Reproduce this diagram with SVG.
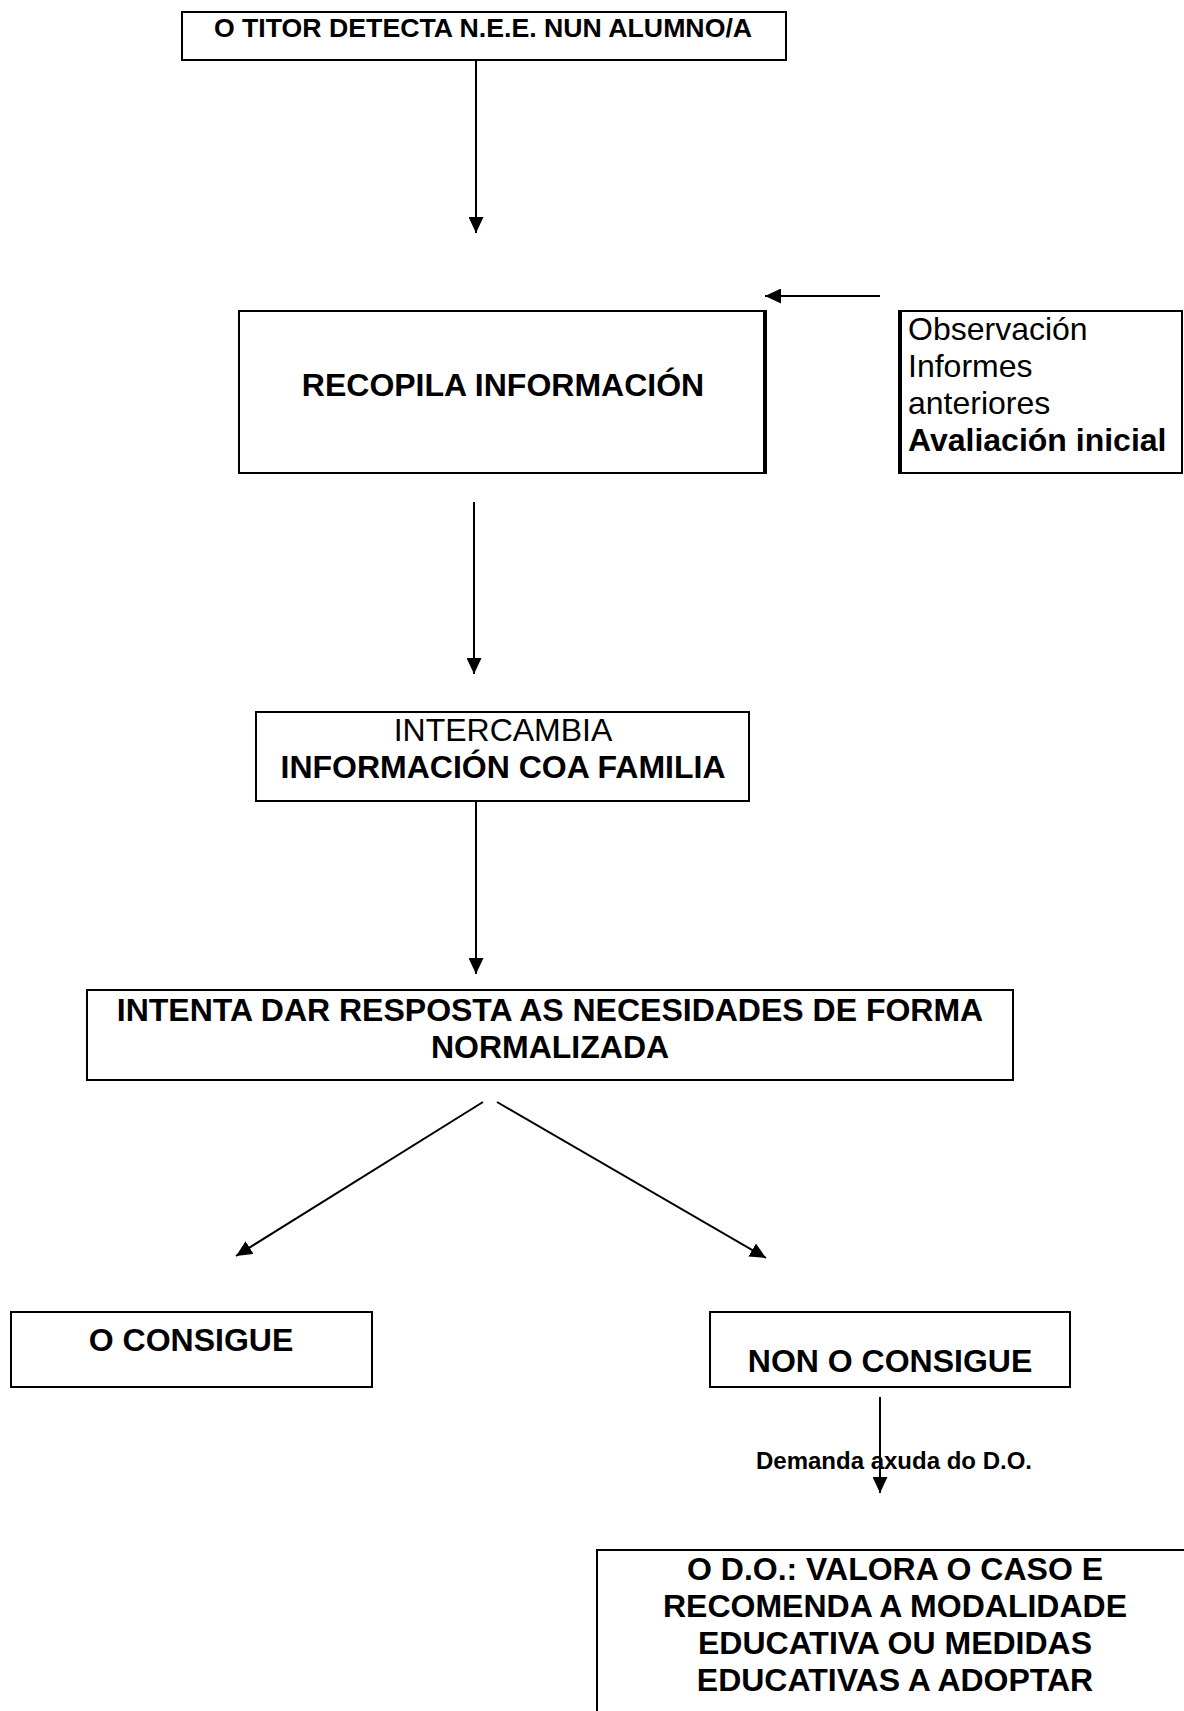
<svg xmlns="http://www.w3.org/2000/svg" width="1184" height="1711" viewBox="0 0 1184 1711">
<style>
.box{fill:#fff;stroke:#000;stroke-width:2}
.t{font-family:"Liberation Sans",Arial,sans-serif;fill:#000}
.b{font-weight:bold}
.c{text-anchor:middle}
.conn{stroke:#000;stroke-width:2;fill:none}
</style>
<defs>
<marker id="ah" markerUnits="userSpaceOnUse" markerWidth="16" markerHeight="15" refX="16" refY="7.5" orient="auto">
<path d="M0,0 L16,7.5 L0,15 z" fill="#000"/>
</marker>
</defs>
<rect width="1184" height="1711" fill="#fff"/>
<g id="connectors">
<line class="conn" x1="476" y1="60" x2="476" y2="233" marker-end="url(#ah)"/>
<line class="conn" x1="880" y1="296" x2="765" y2="296" marker-end="url(#ah)"/>
<line class="conn" x1="474" y1="502" x2="474" y2="674" marker-end="url(#ah)"/>
<line class="conn" x1="476" y1="802" x2="476" y2="974" marker-end="url(#ah)"/>
<line class="conn" x1="483" y1="1102" x2="236" y2="1256" marker-end="url(#ah)"/>
<line class="conn" x1="497" y1="1102" x2="766" y2="1258" marker-end="url(#ah)"/>
<line class="conn" x1="880" y1="1397" x2="880" y2="1493" marker-end="url(#ah)"/>
</g>
<g id="n1">
<rect class="box" x="182" y="12" width="604" height="48"/>
<text class="t b c" x="483" y="37" font-size="26.7">O TITOR DETECTA N.E.E. NUN ALUMNO/A</text>
</g>
<g id="n2">
<rect class="box" x="239" y="311" width="525" height="162"/>
<line x1="765" y1="310" x2="765" y2="474" stroke="#000" stroke-width="4"/>
<text class="t b c" x="503" y="396" font-size="32">RECOPILA INFORMACIÓN</text>
</g>
<g id="n3">
<rect class="box" x="900" y="311" width="282" height="162"/>
<line x1="900" y1="310" x2="900" y2="474" stroke="#000" stroke-width="4"/>
<text class="t" x="908" y="340" font-size="32">Observación</text>
<text class="t" x="908" y="377" font-size="32">Informes</text>
<text class="t" x="908" y="414" font-size="32">anteriores</text>
<text class="t b" x="908" y="451" font-size="32">Avaliación inicial</text>
</g>
<g id="n4">
<rect class="box" x="256" y="712" width="493" height="89"/>
<text class="t c" x="503" y="741" font-size="32">INTERCAMBIA</text>
<text class="t b c" x="503" y="778" font-size="32">INFORMACIÓN COA FAMILIA</text>
</g>
<g id="n5">
<rect class="box" x="87" y="990" width="926" height="90"/>
<text class="t b c" x="550" y="1021" font-size="32">INTENTA DAR RESPOSTA AS NECESIDADES DE FORMA</text>
<text class="t b c" x="550" y="1058" font-size="32">NORMALIZADA</text>
</g>
<g id="n6">
<rect class="box" x="11" y="1312" width="361" height="75"/>
<text class="t b c" x="191" y="1351" font-size="32">O CONSIGUE</text>
</g>
<g id="n7">
<rect class="box" x="710" y="1312" width="360" height="75"/>
<text class="t b c" x="890" y="1372" font-size="32">NON O CONSIGUE</text>
</g>
<g id="lbl">
<text class="t b c" x="894" y="1469" font-size="24">Demanda axuda do D.O.</text>
</g>
<g id="n8">
<rect class="box" x="597" y="1550" width="620" height="220"/>
<text class="t b c" x="895" y="1580" font-size="32">O D.O.: VALORA O CASO E</text>
<text class="t b c" x="895" y="1617" font-size="32">RECOMENDA A MODALIDADE</text>
<text class="t b c" x="895" y="1654" font-size="32">EDUCATIVA OU MEDIDAS</text>
<text class="t b c" x="895" y="1691" font-size="32">EDUCATIVAS A ADOPTAR</text>
</g>
</svg>
